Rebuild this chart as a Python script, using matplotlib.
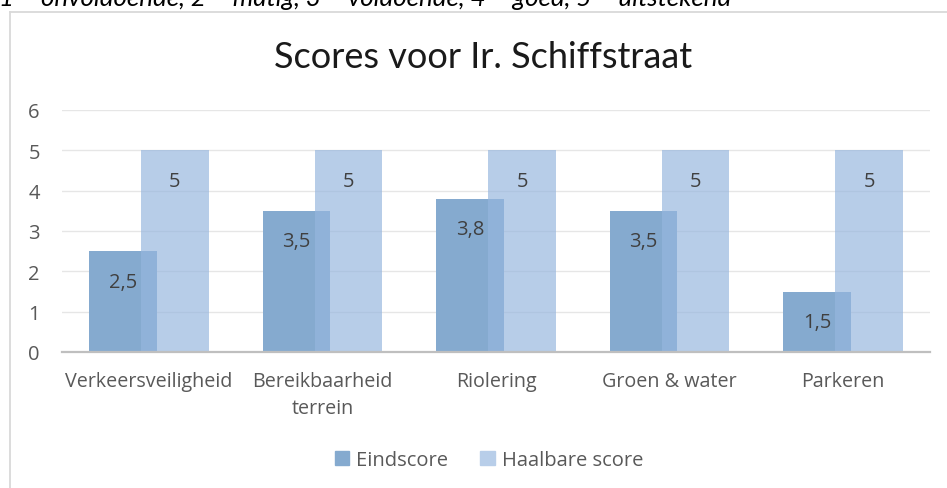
import matplotlib
matplotlib.use("Agg")
import matplotlib.pyplot as plt
from matplotlib.lines import Line2D
import numpy as np

categories = ["Verkeersveiligheid", "Bereikbaarheid\nterrein", "Riolering", "Groen & water", "Parkeren"]
eindscore = [2.5, 3.5, 3.8, 3.5, 1.5]
haalbaar = [5, 5, 5, 5, 5]
series_names = ["Eindscore", "Haalbare score"]
yticks = [0, 1, 2, 3, 4, 5, 6]
title = "Scores voor Ir. Schiffstraat"
top_note = "1 = onvoldoende, 2 = matig, 3 = voldoende, 4 = goed, 5 = uitstekend"

plt.rcParams['font.family'] = ['Open Sans', 'DejaVu Sans']

W, H = 947, 489
fig = plt.figure(figsize=(W / 100, H / 100), dpi=100)
fig.patch.set_facecolor("white")

# cut-off note at top
fig.text(-1 / W, 1 - 6.5 / H, top_note, fontsize=18.6, style='italic', family=['Lato', 'DejaVu Sans'],
         color="#000000", va='baseline', ha='left')

# chart frame (left and top edges)
frame_col = "#d9d9d9"
fig.add_artist(Line2D([9.5 / W, 9.5 / W], [0, 1 - 12.5 / H], transform=fig.transFigure, color=frame_col, lw=1.3))
fig.add_artist(Line2D([9.5 / W, 1], [1 - 12.5 / H, 1 - 12.5 / H], transform=fig.transFigure, color=frame_col, lw=1.3))

ax = fig.add_axes([62 / W, 1 - 353 / H, (930 - 62) / W, (353 - 111) / H])
x = np.arange(len(categories))
bw = 0.39
off = 0.15
c_eind = (133 / 255, 170 / 255, 207 / 255)
c_haal = (150 / 255, 182 / 255, 222 / 255)

b1 = ax.bar(x - off, eindscore, bw, color=c_eind, zorder=2, label=series_names[0])
b2 = ax.bar(x + off, haalbaar, bw, color=c_haal, alpha=0.68, zorder=3, label=series_names[1])

def fmt(v):
    s = ("%g" % v).replace(".", ",")
    return s

for bars, vals in ((b1, eindscore), (b2, haalbaar)):
    for rect, v in zip(bars, vals):
        ax.annotate(fmt(v), (rect.get_x() + rect.get_width() / 2, v), xytext=(0, -22),
                    textcoords='offset points', ha='center', va='center',
                    fontsize=14.5, color="#404040", zorder=5)

ax.set_xlim(-0.5, len(categories) - 0.5)
ax.set_ylim(0, 6)
ax.set_yticks(yticks)
ax.set_yticklabels([str(t) for t in yticks], fontsize=14.5, color="#595959")
ax.set_xticks(x)
ax.set_xticklabels(categories, fontsize=14.2, color="#595959", linespacing=1.45, va='top')
ax.tick_params(axis='both', length=0)
ax.tick_params(axis='y', pad=16)
ax.tick_params(axis='x', pad=14)
ax.grid(axis='y', color="#e6e6e6", lw=1, zorder=0)
ax.set_axisbelow(True)
for s in ["top", "right", "left"]:
    ax.spines[s].set_visible(False)
ax.spines["bottom"].set_color("#bfbfbf")
ax.spines["bottom"].set_linewidth(1.6)
ax.spines["bottom"].set_zorder(4)

fig.text(483 / W, 1 - 58 / H, title, fontsize=26, ha='center', va='center', color="#1a1a1a",
         family=['Lato', 'DejaVu Sans'])

handles = [plt.Rectangle((0, 0), 1, 1, color=c_eind),
           plt.Rectangle((0, 0), 1, 1, color=(184 / 255, 206 / 255, 233 / 255))]
fig.legend(handles, series_names, loc='center', bbox_to_anchor=(489 / W, 1 - 461 / H), ncol=2,
           frameon=False, fontsize=14.5, handlelength=0.7, handleheight=0.7, handletextpad=0.35,
           columnspacing=1.6, labelcolor="#595959")

fig.savefig("out.png", dpi=100, facecolor="white")
